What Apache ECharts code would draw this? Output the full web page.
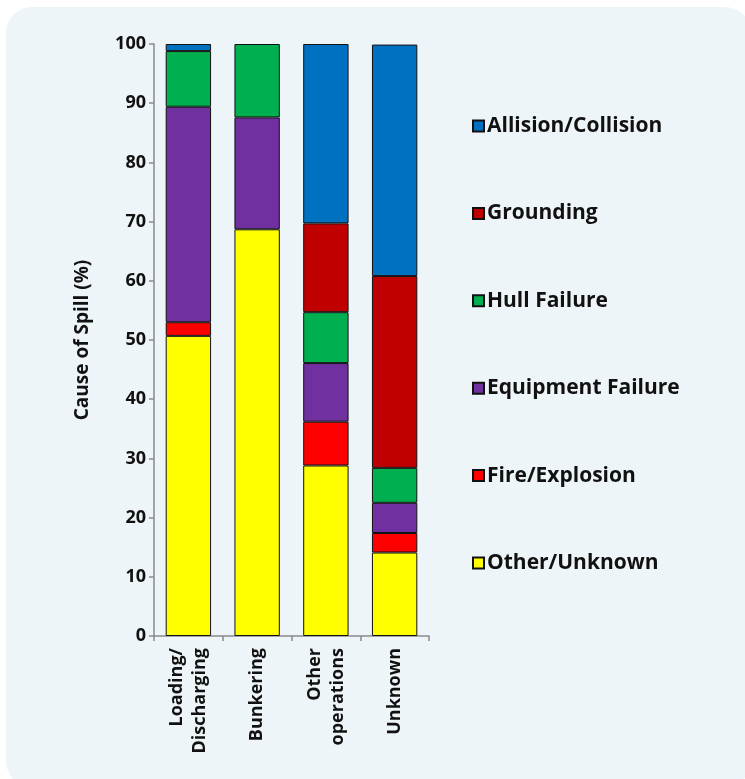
<!DOCTYPE html>
<html>
<head>
<meta charset="utf-8">
<script src="https://cdn.jsdelivr.net/npm/echarts@6/dist/echarts.min.js"></script>
<style>
  html, body { margin: 0; padding: 0; background: #ffffff; }
  #panel {
    position: absolute; left: 6px; top: 7px; width: 745px; height: 780px;
    background: #eef5f8; border-radius: 26px;
  }
  #chart { position: absolute; left: 0; top: 0; width: 745px; height: 779px; }
</style>
</head>
<body>
<div id="panel"></div>
<div id="chart"></div>
<script>
// categories (x axis)
const categories = ['Loading/\nDischarging', 'Bunkering', 'Other\noperations', 'Unknown'];

// percentage of spills per cause, stacked bottom -> top
const otherUnknown     = [50.7, 68.7, 28.8, 14.1];
const fireExplosion    = [2.3, 0, 7.4, 3.3];
const equipmentFailure = [36.4, 18.9, 9.9, 5.1];
const hullFailure      = [9.4, 12.4, 8.6, 5.9];
const grounding        = [0, 0, 15.0, 32.4];
const allisionColl     = [1.2, 0, 30.3, 39.1];

const FONT = 'Open Sans';

const chart = echarts.init(document.getElementById('chart'));

function bar(name, data, color) {
  return {
    name: name,
    type: 'bar',
    stack: 'total',
    // empty segments would otherwise leave a stray border line
    data: data.map(v => (v === 0 ? '-' : v)),
    barWidth: '66%',
    itemStyle: { color: color, borderColor: '#111', borderWidth: 1 }
  };
}

const option = {
  backgroundColor: 'transparent',
  animation: false,
  textStyle: { fontFamily: FONT },
  grid: { left: 154, right: 316, top: 44, bottom: 143 },
  legend: {
    orient: 'vertical',
    left: 472,
    top: 114,
    padding: 0,
    itemWidth: 11,
    itemHeight: 11,
    itemGap: 63.4,
    icon: 'rect',
    // top of legend = last stacked series
    data: ['Allision/Collision', 'Grounding', 'Hull Failure', 'Equipment Failure', 'Fire/Explosion', 'Other/Unknown'],
    textStyle: { fontFamily: FONT, fontWeight: 'bold', fontSize: 21, lineHeight: 24, color: '#111', padding: [0, 0, 0, -2] }
  },
  xAxis: {
    type: 'category',
    data: categories,
    boundaryGap: true,
    axisLine: { lineStyle: { color: '#8a8a8a', width: 1.5 } },
    axisTick: { show: true, length: 5, lineStyle: { color: '#8a8a8a', width: 1.5 } },
    axisLabel: {
      rotate: 90,
      interval: 0,
      margin: 12,
      color: '#111',
      fontFamily: FONT,
      fontWeight: 'bold',
      fontSize: 18,
      lineHeight: 23,
      align: 'right'
    }
  },
  yAxis: {
    type: 'value',
    min: 0,
    max: 100,
    interval: 10,
    name: 'Cause of Spill (%)',
    nameLocation: 'middle',
    nameRotate: 90,
    nameGap: 62,
    nameTextStyle: { fontFamily: FONT, fontWeight: 'bold', fontSize: 19, color: '#111' },
    axisLine: { show: true, lineStyle: { color: '#8a8a8a', width: 1.5 } },
    axisTick: { show: true, length: 5, lineStyle: { color: '#8a8a8a', width: 1.5 } },
    splitLine: { show: false },
    axisLabel: { color: '#111', fontFamily: FONT, fontWeight: 'bold', fontSize: 18, margin: 8 }
  },
  series: [
    bar('Other/Unknown', otherUnknown, '#ffff00'),
    bar('Fire/Explosion', fireExplosion, '#ff0000'),
    bar('Equipment Failure', equipmentFailure, '#7030a0'),
    bar('Hull Failure', hullFailure, '#00b050'),
    bar('Grounding', grounding, '#c00000'),
    bar('Allision/Collision', allisionColl, '#0070c0')
  ]
};

chart.setOption(option);
</script>
</body>
</html>
